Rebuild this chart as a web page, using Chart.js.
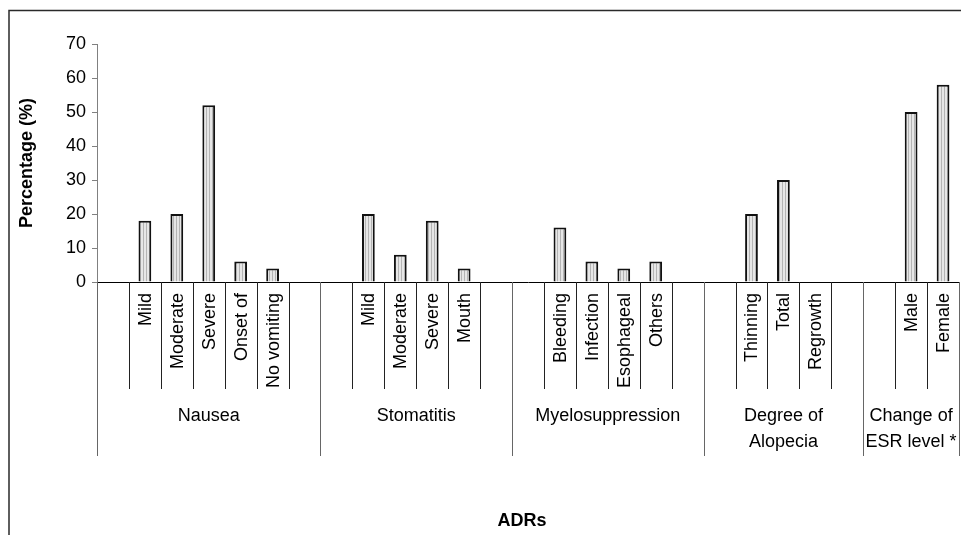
<!DOCTYPE html>
<html>
<head>
<meta charset="utf-8">
<script src="https://cdn.jsdelivr.net/npm/chart.js@4.4.1/dist/chart.umd.min.js"></script>
<style>
  html, body { margin: 0; padding: 0; background: #fff; }
  #wrap { width: 961px; height: 535px; position: relative; }
</style>
</head>
<body>
<div id="wrap"><canvas id="adrChart" width="961" height="535"></canvas></div>
<script>
// categories along the x axis (empty strings are the spacer slots between groups)
const categories = [
  "", "Mild", "Moderate", "Severe", "Onset of", "No vomiting", "",
  "", "Mild", "Moderate", "Severe", "Mouth", "",
  "", "Bleeding", "Infection", "Esophageal", "Others", "",
  "", "Thinning", "Total", "Regrowth", "",
  "", "Male", "Female"
];

// percentage values, null where the slot is empty
const percentages = [
  null, 18, 20, 52, 6, 4, null,
  null, 20, 8, 18, 4, null,
  null, 16, 6, 4, 6, null,
  null, 20, 30, 0, null,
  null, 50, 58
];

// outer group labels and which category slots they span
const groupLabels = [["Nausea"], ["Stomatitis"], ["Myelosuppression"], ["Degree of", "Alopecia"], ["Change of", "ESR level *"]];
const groupStarts = [0, 7, 13, 19, 24];
const groupEnds   = [7, 13, 19, 24, 27];

const yTicks = [0, 10, 20, 30, 40, 50, 60, 70];

const FONT = "'Liberation Sans', Arial, sans-serif";

// light grey fill with thin vertical stripes
function makeStripes() {
  const c = document.createElement("canvas");
  c.width = 3; c.height = 4;
  const g = c.getContext("2d");
  g.fillStyle = "#e6e6e6";
  g.fillRect(0, 0, 3, 4);
  g.fillStyle = "#b4b4b4";
  g.fillRect(2, 0, 1, 4);
  return g.createPattern(c, "repeat");
}
const stripes = makeStripes();

const multiLevelAxis = {
  id: "multiLevelAxis",
  beforeDraw(chart) {
    const ctx = chart.ctx;
    ctx.save();
    ctx.fillStyle = "#fff";
    ctx.fillRect(0, 0, chart.width, chart.height);
    // outer chart border (cropped on right/bottom)
    ctx.strokeStyle = "#2a2a2a";
    ctx.lineWidth = 1.5;
    ctx.beginPath();
    ctx.moveTo(9, chart.height + 2);
    ctx.lineTo(9, 10.5);
    ctx.lineTo(chart.width + 2, 10.5);
    ctx.stroke();
    ctx.restore();
  },
  afterDraw(chart) {
    const ctx = chart.ctx;
    const x = chart.scales.x;
    const base = chart.chartArea.bottom;
    const slot = x.getPixelForValue(1) - x.getPixelForValue(0);
    const edge = i => x.getPixelForValue(0) - slot / 2 + i * slot;

    ctx.save();
    ctx.lineWidth = 1;

    // inner separator lines
    ctx.strokeStyle = "#222";
    for (let i = 1; i < categories.length; i++) {
      if (groupStarts.includes(i)) continue;
      const px = Math.round(edge(i)) + 0.5;
      ctx.beginPath();
      ctx.moveTo(px, base);
      ctx.lineTo(px, 389);
      ctx.stroke();
    }

    // group separator lines
    ctx.strokeStyle = "#666";
    const bounds = groupStarts.concat([categories.length]);
    bounds.forEach(i => {
      const px = Math.round(edge(i)) + 0.5;
      ctx.beginPath();
      ctx.moveTo(px, base);
      ctx.lineTo(px, 456);
      ctx.stroke();
    });

    // rotated inner labels
    ctx.fillStyle = "#000";
    ctx.font = "18px " + FONT;
    ctx.textAlign = "right";
    ctx.textBaseline = "middle";
    categories.forEach((lab, i) => {
      if (!lab) return;
      ctx.save();
      ctx.translate(x.getPixelForValue(i), base + 11);
      ctx.rotate(-Math.PI / 2);
      ctx.fillText(lab, 0, 1);
      ctx.restore();
    });

    // group labels
    ctx.textAlign = "center";
    groupLabels.forEach((lines, g) => {
      const cx = (edge(groupStarts[g]) + edge(groupEnds[g])) / 2;
      lines.forEach((t, k) => ctx.fillText(t, cx, 416 + k * 26));
    });

    // x axis title
    ctx.font = "bold 18px " + FONT;
    ctx.fillText("ADRs", 522, 521);
    ctx.restore();
  }
};

new Chart(document.getElementById("adrChart"), {
  type: "bar",
  data: {
    labels: categories,
    datasets: [{
      data: percentages,
      backgroundColor: stripes,
      borderColor: "#111",
      borderWidth: 2,
      borderSkipped: "bottom",
      categoryPercentage: 1,
      barPercentage: 0.4
    }]
  },
  options: {
    responsive: false,
    animation: false,
    devicePixelRatio: 1,
    layout: { padding: { left: 9, top: 44, right: 2, bottom: 253 } },
    plugins: { legend: { display: false }, tooltip: { enabled: false } },
    scales: {
      x: {
        ticks: { display: false },
        grid: { display: false, drawTicks: false },
        border: { color: "#000", width: 1 },
        afterFit: s => { s.height = 0; }
      },
      y: {
        min: 0,
        max: 70,
        afterBuildTicks: s => { s.ticks = yTicks.map(v => ({ value: v })); },
        ticks: { color: "#000", font: { family: FONT, size: 18 }, padding: 6 },
        grid: { drawOnChartArea: false, drawTicks: true, tickLength: 5, color: "#808080" },
        border: { color: "#808080", width: 1 },
        title: { display: true, text: "Percentage (%)", color: "#000", font: { family: FONT, size: 18, weight: "bold" }, padding: { top: 7, bottom: 0 } },
        afterFit: s => { s.width = 88; }
      }
    }
  },
  plugins: [multiLevelAxis]
});
</script>
</body>
</html>
